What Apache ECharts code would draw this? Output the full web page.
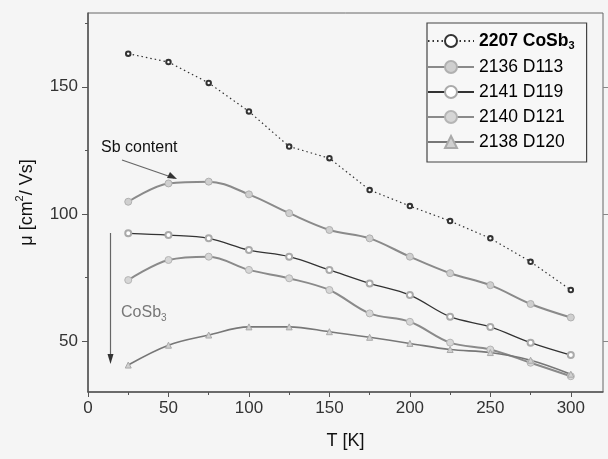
<!DOCTYPE html>
<html><head><meta charset="utf-8">
<script src="https://cdn.jsdelivr.net/npm/echarts@6/dist/echarts.min.js"></script>
<style>html,body{margin:0;padding:0;background:#f5f5f5}#c{width:608px;height:459px}</style>
</head><body><div id="c"></div>
<script>
const temps = [25, 50, 75, 100, 125, 150, 175, 200, 225, 250, 275, 300];
const sCoSb3 = [163, 159.7, 151.5, 140.3, 126.5, 121.9, 109.4, 103.1, 97.2, 90.4, 81.2, 70.1];
const sD113 = [104.8, 112, 112.7, 107.7, 100.3, 93.7, 90.4, 83.2, 76.7, 72, 64.6, 59.3];
const sD119 = [92.4, 91.7, 90.4, 85.8, 83.2, 78, 72.7, 68.1, 59.6, 55.6, 49.4, 44.5];
const sD121 = [74, 81.9, 83.2, 78, 74.7, 70.1, 60.9, 57.6, 49.4, 46.7, 41.5, 36.2];
const sD120 = [40.6, 48.4, 52.4, 55.6, 55.6, 53.7, 51.5, 49.1, 46.7, 45.5, 42.5, 37];
const seriesNames = ['2207 CoSb3', '2136 D113', '2141 D119', '2140 D121', '2138 D120'];
const xMajor = [0, 50, 100, 150, 200, 250, 300];
const xMinor = [25, 75, 125, 175, 225, 275];
const yMajor = [50, 100, 150];
const yMinor = [75, 125, 175];

const pairs = arr => temps.map((t, i) => [t, arr[i]]);
const chart = echarts.init(document.getElementById('c'), null, {renderer: 'canvas'});
const font = '"Liberation Sans", Arial, sans-serif';
const axisCol = '#555';
function mk(name, data, lineColor, lineW, lineType, sym, symSize, symFill, symBorder, smooth) {
  return {
    name: name, type: 'line', data: pairs(data), smooth: smooth,
    lineStyle: {color: lineColor, width: lineW, type: lineType},
    symbol: sym, symbolSize: symSize,
    itemStyle: {color: symFill, borderColor: symBorder, borderWidth: 1},
    xAxisIndex: 0, yAxisIndex: 0, z: 3
  };
}
const option = {
  backgroundColor: '#f5f5f5',
  animation: false,
  grid: {left: 88, right: 5, top: 13, bottom: 67, show: true, borderColor: '#666', borderWidth: 1, backgroundColor: 'transparent'},
  xAxis: [
    {type: 'value', min: 0, max: 320, position: 'bottom',
     axisLine: {lineStyle: {color: axisCol, width: 1.5}},
     axisTick: {customValues: xMajor, length: 5, inside: false, lineStyle: {color: axisCol}},
     axisLabel: {customValues: xMajor, color: '#333', fontSize: 17, fontFamily: font, margin: 8},
     splitLine: {show: false},
     name: 'T [K]', nameLocation: 'middle', nameGap: 40,
     nameTextStyle: {fontSize: 18, fontFamily: font, color: '#111'}},
    {type: 'value', min: 0, max: 320, position: 'bottom',
     axisLine: {show: false},
     axisTick: {customValues: xMinor, length: 3, lineStyle: {color: axisCol}},
     axisLabel: {show: false}, splitLine: {show: false}}
  ],
  yAxis: [
    {type: 'value', min: 30, max: 179, position: 'left',
     axisLine: {show: true, lineStyle: {color: axisCol, width: 1.5}},
     axisTick: {show: true, customValues: yMajor, length: 6, lineStyle: {color: axisCol}},
     axisLabel: {customValues: yMajor, color: '#333', fontSize: 17, fontFamily: font, margin: 10},
     splitLine: {show: false},
     name: '{a|μ [cm}{s|2}{a|/ Vs]}', nameLocation: 'middle', nameGap: 52, nameRotate: 90,
     nameTextStyle: {rich: {
       a: {fontSize: 18, fontFamily: font, color: '#111', lineHeight: 22, verticalAlign: 'bottom'},
       s: {fontSize: 11, fontFamily: font, color: '#111', lineHeight: 22, verticalAlign: 'top'}}}},
    {type: 'value', min: 30, max: 179, position: 'left',
     axisLine: {show: false},
     axisTick: {show: true, customValues: yMinor, length: 3, lineStyle: {color: axisCol}},
     axisLabel: {show: false}, splitLine: {show: false}},
    {type: 'value', min: 30, max: 179, position: 'right',
     axisLine: {show: false},
     axisTick: {show: true, customValues: yMajor, length: 5, lineStyle: {color: '#888'}},
     axisLabel: {show: false}, splitLine: {show: false}}
  ],
  legend: {
    orient: 'vertical', left: 427, top: 23,
    backgroundColor: '#f7f7f7', borderColor: '#444', borderWidth: 1.2,
    padding: [9, 12, 11, 0], itemGap: 7, itemWidth: 46, itemHeight: 15,
    textStyle: {fontSize: 17.5, fontFamily: font, color: '#000',
      rich: {a: {fontSize: 17.5, fontFamily: font, color: '#000', fontWeight: 'bold'},
             s: {fontSize: 11, fontFamily: font, color: '#000', fontWeight: 'bold', verticalAlign: 'bottom', padding: [9, 0, 0, 0]}}},
    formatter: n => n === '2207 CoSb3' ? '{a|2207 CoSb}{s|3}' : n,
    data: seriesNames.map((n, i) => ({name: n, textStyle: {fontWeight: i === 0 ? 'bold' : 'normal'}}))
  },
  series: [
    mk(seriesNames[0], sCoSb3, '#333', 1.2, [1.5, 3], 'emptyCircle', 4.5, '#333', '#333', false),
    mk(seriesNames[1], sD113, '#8a8a8a', 2, 'solid', 'circle', 7, '#cfcfcf', '#b0b0b0', 0.35),
    mk(seriesNames[2], sD119, '#333', 1.3, 'solid', 'emptyCircle', 6, '#aaaaaa', '#aaaaaa', 0.35),
    mk(seriesNames[3], sD121, '#8a8a8a', 2, 'solid', 'circle', 7, '#d6d6d6', '#b5b5b5', 0.35),
    mk(seriesNames[4], sD120, '#777', 1.6, 'solid', 'triangle', 6, '#d0d0d0', '#aaaaaa', 0.35)
  ],
  graphic: [
    {type: 'text', left: 101, top: 140, style: {text: 'Sb content', font: '16px ' + font, fill: '#111'}},
    {type: 'line', shape: {x1: 122, y1: 160, x2: 174, y2: 178}, style: {stroke: '#666', lineWidth: 1.2}},
    {type: 'polygon', shape: {points: [[177, 179], [167, 178], [170, 172]]}, style: {fill: '#333'}},
    {type: 'text', left: 121, top: 305, style: {rich: {a: {font: '16px ' + font, fill: '#777'}, s: {font: '10px ' + font, fill: '#777', padding: [10, 0, 0, 0]}}, text: '{a|CoSb}{s|3}'}},
    {type: 'line', shape: {x1: 110.5, y1: 233, x2: 110.5, y2: 358}, style: {stroke: '#666', lineWidth: 1.2}},
    {type: 'polygon', shape: {points: [[110.5, 364], [107.5, 354], [113.5, 354]]}, style: {fill: '#333'}}
  ]
};
chart.setOption(option);
</script></body></html>
